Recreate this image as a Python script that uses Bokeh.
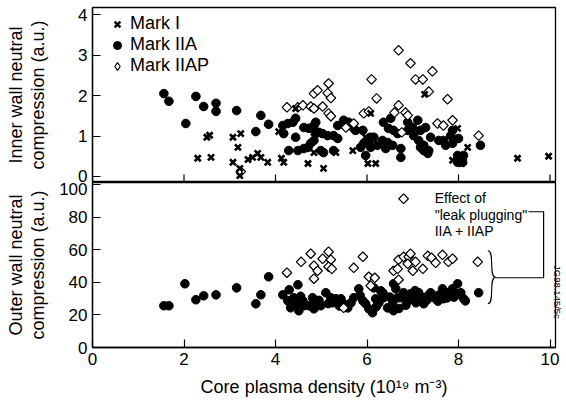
from math import pi
from bokeh.plotting import figure
from bokeh.layouts import column
from bokeh.models import FixedTicker, Range1d, Legend, LegendItem, Label, LinearAxis
from bokeh.embed import file_html
from bokeh.resources import INLINE

FONT = "Liberation Sans"

# ---------------- data ----------------
# Top panel: inner wall neutral compression (a.u.)
inner_mark1_density = [2.50, 2.56, 2.30, 2.59, 3.07, 3.24, 3.18, 3.07, 3.22, 3.22,
                       3.40, 3.50, 3.61, 3.68, 3.83, 4.07, 4.18, 4.13, 4.44, 4.71,
                       4.84, 4.84, 5.05, 4.66, 5.32, 5.69, 6.02, 6.19, 6.08, 5.97,
                       7.26, 7.98, 8.20, 7.87, 8.07, 8.11, 9.29, 9.97]
inner_mark1_comp = [0.97, 1.02, 0.45, 0.47, 0.97, 1.06, 0.72, 0.35, 0.20, 0.02,
                    0.42, 0.47, 0.57, 0.47, 0.35, 1.11, 0.35, 0.45, 1.68, 0.32,
                    1.09, 0.59, 0.20, 0.69, 0.59, 0.64, 0.32, 0.32, 1.56, 0.97,
                    2.03, 1.19, 0.72, 0.40, 0.32, 0.37, 0.45, 0.50]

inner_iia_density = [1.56, 1.67, 2.04, 2.26, 2.43, 2.70, 2.70, 3.15, 3.68, 3.85,
                     3.57, 4.16, 4.27, 4.38, 4.44, 4.18, 4.44, 4.29, 4.49, 4.62,
                     4.73, 4.84, 4.88, 5.03, 5.14, 5.27, 4.71, 4.77, 4.99, 5.05,
                     4.84, 5.36, 4.88, 4.95, 5.36, 4.62, 5.27, 5.49, 5.58, 5.75,
                     5.91, 5.93, 6.02, 6.08, 5.86, 5.97, 6.15, 6.23, 6.36, 6.52,
                     6.47, 6.58, 6.67, 6.34, 6.45, 6.41, 6.56, 6.74, 6.74, 6.89,
                     7.00, 7.11, 6.89, 7.02, 7.13, 7.24, 7.35, 7.28, 7.17, 7.39,
                     7.57, 7.67, 7.72, 7.83, 7.87, 7.87, 8.00, 7.17, 7.24, 7.33,
                     7.98, 8.05, 8.09, 7.98, 8.11, 8.48, 5.71, 6.08, 6.04, 5.60]
inner_iia_comp = [2.05, 1.86, 1.31, 1.98, 1.73, 1.81, 1.61, 1.63, 1.51, 1.29,
                  1.11, 1.26, 1.31, 1.34, 1.44, 1.06, 0.97, 0.64, 0.64, 1.21,
                  1.19, 1.26, 1.06, 1.06, 1.01, 1.01, 0.72, 0.82, 0.64, 0.59,
                  0.89, 1.26, 1.34, 1.09, 0.94, 0.69, 0.64, 1.39, 1.26, 1.14,
                  1.14, 0.82, 0.84, 0.72, 0.72, 0.52, 0.97, 0.77, 1.34, 1.44,
                  1.19, 1.14, 1.06, 0.89, 0.84, 0.69, 0.77, 0.69, 0.47, 1.34,
                  1.21, 1.39, 1.14, 1.01, 0.89, 0.77, 0.64, 1.21, 1.14, 0.97,
                  0.89, 0.89, 0.77, 1.01, 0.82, 1.14, 0.94, 0.72, 0.64, 0.57,
                  0.52, 0.45, 0.35, 0.35, 0.52, 0.77, 1.19, 0.97, 0.84, 1.34]

inner_iiap_density = [4.25, 4.49, 4.60, 4.77, 4.84, 5.03, 4.84, 4.92, 5.16, 5.14,
                      5.21, 5.16, 5.21, 3.24, 5.54, 5.71, 6.10, 6.21, 5.93, 6.04,
                      6.69, 6.95, 7.06, 7.22, 7.43, 7.35, 7.76, 6.69, 6.84, 6.89,
                      6.60, 6.76, 7.54, 7.67, 7.87, 8.44]
inner_iiap_comp = [1.71, 1.71, 1.76, 1.73, 1.68, 1.73, 2.05, 2.13, 2.30, 2.06,
                   1.94, 1.56, 1.49, 0.12, 1.21, 1.31, 2.40, 1.93, 1.56, 1.61,
                   3.12, 2.80, 2.40, 2.40, 2.60, 2.10, 1.91, 1.76, 1.58, 1.51,
                   1.58, 1.09, 1.31, 1.26, 1.39, 1.01]

# Bottom panel: outer wall neutral compression (a.u.)
outer_iia_density = [1.56, 1.67, 2.02, 2.26, 2.43, 2.70, 3.15, 3.57, 3.68, 3.85,
                     4.49, 4.16, 4.27, 4.33, 4.40, 4.44, 4.51, 4.60, 4.62, 4.73,
                     4.81, 4.88, 4.84, 4.99, 5.10, 5.21, 5.32, 5.43, 5.49, 5.58,
                     5.25, 5.71, 5.82, 5.91, 5.97, 6.04, 6.12, 6.23, 6.19, 6.15,
                     6.30, 6.26, 6.36, 6.45, 6.56, 6.58, 6.63, 6.67, 6.58, 6.74,
                     6.80, 6.89, 6.95, 7.02, 7.07, 7.13, 7.22, 7.24, 7.33, 7.39,
                     7.46, 7.54, 7.61, 7.65, 7.67, 7.78, 7.87, 7.98, 7.98, 8.05,
                     8.11, 8.15, 8.44, 4.55, 4.95, 5.15, 5.40, 5.65, 6.35, 6.50,
                     6.85, 7.05, 7.30, 7.55, 7.75, 7.90, 6.20, 6.70, 5.85, 4.30]
outer_iia_comp = [25.7, 25.7, 39.2, 29.4, 31.8, 32.4, 36.7, 26.9, 32.4, 43.5,
                  38.6, 32.4, 28.7, 24.4, 30.6, 26.9, 22.6, 28.7, 25.7, 25.7,
                  30.6, 27.5, 23.8, 25.7, 33.7, 30.6, 30.0, 30.0, 26.9, 24.4,
                  27.5, 30.6, 36.1, 28.7, 26.9, 23.8, 21.4, 28.7, 30.0, 36.7,
                  34.9, 27.5, 30.6, 24.4, 27.5, 22.6, 36.1, 30.6, 39.2, 30.6,
                  33.7, 28.7, 33.0, 30.6, 27.5, 33.7, 30.6, 26.9, 31.8, 33.7,
                  30.6, 31.8, 33.0, 36.1, 30.0, 33.7, 36.1, 39.2, 33.0, 33.7,
                  30.0, 28.7, 33.7, 31.5, 29.0, 27.0, 25.5, 27.5, 33.5, 31.0,
                  26.0, 35.0, 29.0, 28.5, 30.5, 31.0, 25.0, 24.0, 32.0, 35.5]

outer_iiap_density = [4.25, 4.56, 4.77, 4.84, 4.92, 4.84, 5.03, 5.16, 5.21, 5.16,
                      5.23, 5.71, 5.91, 6.04, 6.17, 6.08, 5.49, 6.80, 6.58, 6.67,
                      6.69, 6.80, 6.91, 6.95, 6.89, 6.69, 7.00, 7.22, 7.06, 7.33,
                      7.41, 7.50, 7.65, 7.78, 7.87, 8.42]
outer_iiap_comp = [46.0, 52.7, 57.7, 50.3, 47.2, 42.3, 54.6, 58.9, 54.0, 49.7,
                   48.4, 49.0, 55.8, 43.5, 42.9, 38.0, 24.4, 91.5, 47.2, 48.4,
                   54.0, 55.8, 55.8, 57.7, 51.5, 41.7, 47.2, 48.4, 52.7, 56.4,
                   55.2, 52.1, 57.0, 52.7, 54.6, 52.7]

x_ticks = [0, 2, 4, 6, 8, 10]
inner_ticks = [0, 1, 2, 3, 4]
outer_ticks = [0, 20, 40, 60, 80, 100]
series_labels = ["Mark I", "Mark IIA", "Mark IIAP"]

# annotation text and geometry (data units of the lower panel)
note_lines = ["Effect of", "\"leak plugging\"", "IIA + IIAP"]
note_x = 7.48
note_y = [92.1, 81.7, 71.8]
connector_x = [9.53, 9.86, 9.86, 8.81]
connector_y = [83.5, 83.5, 42.9, 42.9]
brace_left, brace_tip, brace_top, brace_mid, brace_bot = 8.64, 8.81, 59.5, 43.2, 26.9
figure_id = "JG98.145/5c"

# ---------------- figures ----------------
x_range = Range1d(0, 10.12)
TOP_FRAME_H = 175
TICK_PX = 8


def style(p):
    p.outline_line_color = "black"
    p.outline_line_width = 1.3
    p.xgrid.visible = False
    p.ygrid.visible = False
    p.background_fill_color = "white"
    p.border_fill_color = "white"
    for ax in p.axis:
        ax.major_tick_in = TICK_PX
        ax.major_tick_out = 0
        ax.minor_tick_line_color = None
        ax.axis_line_color = "black"
        ax.axis_line_width = 1.3
        ax.major_tick_line_width = 1.2
        ax.major_tick_line_color = "black"
        ax.major_label_text_font = FONT
        ax.major_label_text_font_size = "17px"
        ax.major_label_text_color = "black"
        ax.axis_label_text_font = FONT
        ax.axis_label_text_font_size = "18px"
        ax.axis_label_text_font_style = "normal"
        ax.axis_label_text_color = "black"
        ax.axis_label_text_line_height = 1.1
        ax.major_label_standoff = 5


top = figure(frame_width=463, frame_height=TOP_FRAME_H, x_range=x_range,
             y_range=Range1d(-0.15, 4.18),
             min_border_left=92, min_border_right=11, min_border_top=7,
             min_border_bottom=0, output_backend="svg", toolbar_location=None)
style(top)
top.xaxis.visible = False
top.yaxis.ticker = FixedTicker(ticks=inner_ticks)
top.yaxis.axis_label = "Inner wall neutral\ncompression (a.u.)"
top.yaxis.axis_label_standoff = 27

# inward x ticks along the shared boundary of the upper panel
y0 = top.y_range.start
tick_len = TICK_PX * (top.y_range.end - top.y_range.start) / TOP_FRAME_H
top.segment(x0=x_ticks, y0=[y0] * len(x_ticks), x1=x_ticks,
            y1=[y0 + tick_len] * len(x_ticks), line_color="black", line_width=1.2)

# legend key for the open diamonds: zero-size markers (invisible in the plot,
# the legend draws its own glyph size)
r_iiap_key = top.scatter(inner_iiap_density, inner_iiap_comp, marker="diamond", size=0,
                         fill_color="white", line_color="black", line_width=1.2)
r_iia = top.scatter(inner_iia_density, inner_iia_comp, marker="circle", size=8.6,
                    fill_color="black", line_color="black")
r_iiap = top.scatter(inner_iiap_density, inner_iiap_comp, marker="square", angle=pi / 4,
                     size=6.8, fill_color="white", line_color="black", line_width=1.2)
r_m1 = top.scatter(inner_mark1_density, inner_mark1_comp, marker="x", size=8.5,
                   line_color="black", line_width=2.6)

legend = Legend(items=[LegendItem(label=series_labels[0], renderers=[r_m1]),
                       LegendItem(label=series_labels[1], renderers=[r_iia]),
                       LegendItem(label=series_labels[2], renderers=[r_iiap_key])],
                location=(15, 106), border_line_color=None, background_fill_alpha=0,
                label_text_font=FONT, label_text_font_size="18px", label_text_color="black",
                label_text_line_height=0.98,
                glyph_width=20, glyph_height=20, padding=0, margin=0, spacing=0,
                label_standoff=3, label_height=20)
top.add_layout(legend)

bottom = figure(frame_width=463, frame_height=165, x_range=x_range,
                y_range=Range1d(0, 101.5),
                min_border_left=92, min_border_right=11, min_border_top=0,
                min_border_bottom=55, output_backend="svg", toolbar_location=None)
style(bottom)
bottom.xaxis.ticker = FixedTicker(ticks=x_ticks)
bottom.xaxis.axis_label = "Core plasma density (10\u00b9\u2079 m\u207b\u00b3)"
bottom.xaxis.axis_label_standoff = 9
bottom.yaxis.ticker = FixedTicker(ticks=outer_ticks)
bottom.yaxis.axis_label = "Outer wall neutral\ncompression (a.u.)"
bottom.yaxis.axis_label_standoff = 8

bottom.scatter(outer_iia_density, outer_iia_comp, marker="circle", size=8.6,
               fill_color="black", line_color="black")
bottom.scatter(outer_iiap_density, outer_iiap_comp, marker="square", angle=pi / 4,
               size=6.8, fill_color="white", line_color="black", line_width=1.2)

for txt, yy in zip(note_lines, note_y):
    bottom.add_layout(Label(x=note_x, y=yy, text=txt, text_font=FONT,
                            text_font_size="14px", text_color="black",
                            text_baseline="alphabetic", text_align="left"))
bottom.line(connector_x, connector_y, line_color="black", line_width=1.2)
bottom.bezier(x0=[brace_left, brace_left], y0=[brace_top, brace_bot],
              x1=[brace_tip, brace_tip], y1=[brace_mid, brace_mid],
              cx0=[brace_tip - 0.01, brace_tip - 0.01], cy0=[brace_top, brace_bot],
              cx1=[brace_left + 0.01, brace_left + 0.01], cy1=[brace_mid, brace_mid],
              line_color="black", line_width=1.1)

# small vertical figure identifier at the right edge (reads bottom to top)
jg_axis = LinearAxis(ticker=FixedTicker(ticks=[]), axis_label=figure_id + "\u00a0" * 136,
                     axis_line_color=None, major_tick_line_color=None,
                     minor_tick_line_color=None, major_tick_in=0, major_tick_out=0,
                     major_label_standoff=0, axis_label_standoff=2,
                     axis_label_text_font=FONT, axis_label_text_font_size="9.5px",
                     axis_label_text_font_style="normal", axis_label_text_color="black")
if "axis_label_orientation" in LinearAxis.properties():
    jg_axis.axis_label_orientation = -pi / 2
bottom.add_layout(jg_axis, "right")

layout = column(top, bottom, spacing=0)
open("out.html", "w").write(file_html(layout, INLINE))
